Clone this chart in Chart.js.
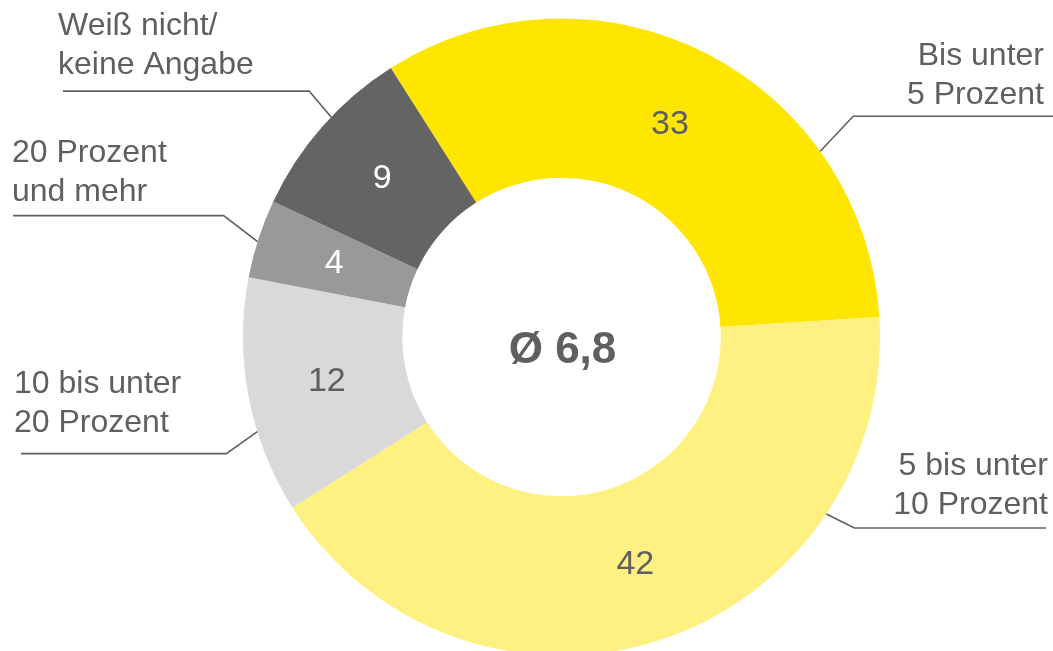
<!DOCTYPE html>
<html>
<head>
<meta charset="utf-8">
<script src="https://cdn.jsdelivr.net/npm/chart.js@4"></script>
<style>
  html, body { margin: 0; padding: 0; background: #ffffff; overflow: hidden; }
  #wrap { width: 1053px; height: 651px; overflow: hidden; }
</style>
</head>
<body>
<div id="wrap"><canvas id="c" width="1053" height="656"></canvas></div>
<script>
// ---- data ----
const categories = ["Bis unter 5 Prozent", "5 bis unter 10 Prozent", "10 bis unter 20 Prozent", "20 Prozent und mehr", "Weiß nicht/keine Angabe"];
const categoryLines = [["Bis unter", "5 Prozent"], ["5 bis unter", "10 Prozent"], ["10 bis unter", "20 Prozent"], ["20 Prozent", "und mehr"], ["Weiß nicht/", "keine Angabe"]];
const values = [33, 42, 12, 4, 9];
const averageLabel = "Ø 6,8";

// ---- styles ----
const colors = ["#FFE600", "#FFF082", "#D9D9D9", "#999999", "#646464"];
const valueColors = ["#5f5f5f", "#5f5f5f", "#5f5f5f", "#ffffff", "#ffffff"];
const textColor = "#5f5f5f";
const lineColor = "#5f5f5f";
const FONT = "'Liberation Sans', Arial, sans-serif";

// leader layout: where on the outer edge (fraction of the slice), elbow offset, horizontal end, text placement
const leaders = [
  { frac: 0.73, ex: 33, ey: -35, endX: 1053, tx: 1044, ty: 65, align: "right" },
  { frac: 0.247, ex: 28, ey: 14, endX: 1046, tx: 1048, ty: 475, align: "right" },
  { frac: 0.35, ex: -31, ey: 22, endX: 21, tx: 14, ty: 393, align: "left" },
  { frac: 0.46, ex: -34, ey: -26, endX: 13, tx: 12, ty: 162, align: "left" },
  { frac: 0.57, ex: -22, ey: -26, endX: 63, tx: 58, ty: 35, align: "left" }
];

const annotationPlugin = {
  id: "annotations",
  afterDatasetsDraw(chart) {
    const ctx = chart.ctx;
    const meta = chart.getDatasetMeta(0);
    ctx.save();
    meta.data.forEach((arc, i) => {
      // value label in slice
      const p = arc.tooltipPosition();
      ctx.font = "34px " + FONT;
      ctx.fillStyle = valueColors[i];
      ctx.textAlign = "center";
      ctx.textBaseline = "middle";
      ctx.fillText(String(values[i]), p.x, p.y);

      // leader line
      const L = leaders[i];
      const a = arc.startAngle + L.frac * (arc.endAngle - arc.startAngle);
      const sx = arc.x + arc.outerRadius * Math.cos(a);
      const sy = arc.y + arc.outerRadius * Math.sin(a);
      const bx = sx + L.ex, by = sy + L.ey;
      ctx.beginPath();
      ctx.strokeStyle = lineColor;
      ctx.lineWidth = 1.6;
      ctx.moveTo(sx, sy);
      ctx.lineTo(bx, by);
      ctx.lineTo(L.endX, by);
      ctx.stroke();

      // category text
      ctx.font = "32px " + FONT;
      ctx.fillStyle = textColor;
      ctx.textAlign = L.align;
      ctx.textBaseline = "alphabetic";
      categoryLines[i].forEach((line, k) => {
        ctx.fillText(line, L.tx, L.ty + k * 38.5);
      });
    });

    // centre average
    const arc0 = meta.data[0];
    ctx.font = "bold 44px " + FONT;
    ctx.fillStyle = textColor;
    ctx.textAlign = "center";
    ctx.textBaseline = "alphabetic";
    ctx.fillText(averageLabel, arc0.x + 1, arc0.y + 26);
    ctx.restore();
  }
};

new Chart(document.getElementById("c"), {
  type: "doughnut",
  data: {
    labels: categories,
    datasets: [{
      data: values,
      backgroundColor: colors,
      borderWidth: 0,
      hoverOffset: 0
    }]
  },
  options: {
    responsive: false,
    animation: false,
    devicePixelRatio: 1,
    rotation: -32.4,
    cutout: "50%",
    layout: { padding: { left: 243, right: 173, top: 18, bottom: 0 } },
    plugins: {
      legend: { display: false },
      tooltip: { enabled: false }
    }
  },
  plugins: [annotationPlugin]
});
</script>
</body>
</html>
